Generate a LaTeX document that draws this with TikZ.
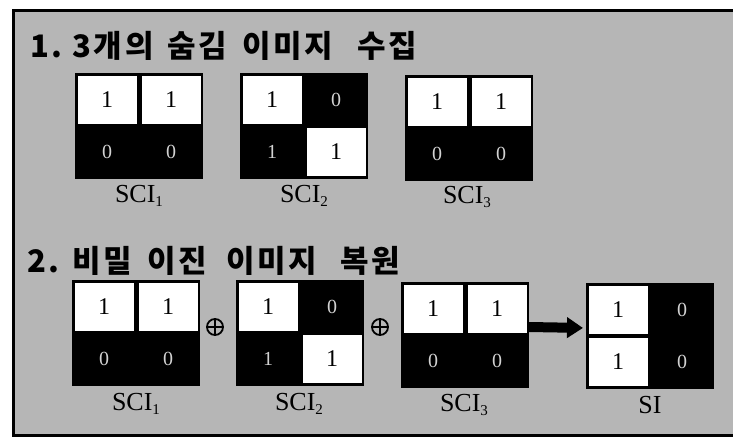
\documentclass[tikz,border=0pt]{standalone}
\usepackage{fontspec}
\setmainfont{Liberation Serif}
\newfontfamily\kr{Noto Sans CJK KR}[LetterSpace=9]
\usetikzlibrary{arrows.meta}
\definecolor{bg}{RGB}{182,182,182}
\newcommand\subn[1]{\raisebox{-0.35ex}{\fontsize{15}{15}\selectfont #1}}
\begin{document}
\begin{tikzpicture}[x=1pt,y=-1pt,
  outer/.style={fill=black, minimum width=128pt, minimum height=106pt, inner sep=0, outer sep=0, anchor=north west},
  wcell/.style={fill=white, minimum width=59pt, minimum height=48pt, inner sep=0, font=\fontsize{24}{24}\selectfont},
  bcell/.style={text=gray!35, minimum width=59pt, minimum height=48pt, inner sep=0, font=\fontsize{20}{20}\selectfont},
  lbl/.style={font=\fontsize{26}{26}\selectfont, inner sep=0},
  ttl/.style={font=\kr\bfseries\fontsize{31}{31}\selectfont, anchor=west, inner sep=0},
  xorsym/.style={circle, draw=black, line width=1.8pt, minimum size=16pt, inner sep=0},
  xorline/.style={line width=1.8pt}
]
\useasboundingbox (0,0) rectangle (733,441);
\fill[white] (0,0) rectangle (733,441);
\fill[bg] (13,11) rectangle (733,435);
\draw[line width=3pt] (733,11) -- (13,11) -- (13,435) -- (733,435);

% titles (word by word)
\node[ttl] (t1w1) at (30,46) {1.};
\node[ttl] (t1w2) at (72,46) {3개의};
\node[ttl] (t1w3) at (167,46) {숨김};
\node[ttl] (t1w4) at (242,46) {이미지};
\node[ttl] (t1w5) at (357,46) {수집};
\node[ttl] (t2w1) at (27,261) {2.};
\node[ttl] (t2w2) at (72,261) {비밀};
\node[ttl] (t2w3) at (147,261) {이진};
\node[ttl] (t2w4) at (226,261) {이미지};
\node[ttl] (t2w5) at (340,261) {복원};

% ---- top row ----
\node[outer] (t1) at (75,73) {};
\node[wcell] (t1a) at (107,100) {1};
\node[wcell] (t1b) at (171,100) {1};
\node[bcell] (t1c) at (107,152) {0};
\node[bcell] (t1d) at (171,152) {0};
\node[lbl] (t1l) at (139,196) {SCI\subn{1}};

\node[outer] (t2) at (240,73) {};
\node[wcell] (t2a) at (272,100) {1};
\node[bcell] (t2b) at (336,100) {0};
\node[bcell] (t2c) at (272,152) {1};
\node[wcell] (t2d) at (336,152) {1};
\node[lbl] (t2l) at (304,196) {SCI\subn{2}};

\node[outer] (t3) at (405,75) {};
\node[wcell] (t3a) at (437,102) {1};
\node[wcell] (t3b) at (501,102) {1};
\node[bcell] (t3c) at (437,154) {0};
\node[bcell] (t3d) at (501,154) {0};
\node[lbl] (t3l) at (467,197) {SCI\subn{3}};

% ---- bottom row ----
\node[outer] (b1) at (72,280) {};
\node[wcell] (b1a) at (104,307) {1};
\node[wcell] (b1b) at (168,307) {1};
\node[bcell] (b1c) at (104,359) {0};
\node[bcell] (b1d) at (168,359) {0};
\node[lbl] (b1l) at (136,404) {SCI\subn{1}};

\node[xorsym] (x1) at (215,327) {};
\draw[xorline] (x1.north) -- (x1.south) (x1.west) -- (x1.east);

\node[outer] (b2) at (236,280) {};
\node[wcell] (b2a) at (268,307) {1};
\node[bcell] (b2b) at (332,307) {0};
\node[bcell] (b2c) at (268,359) {1};
\node[wcell] (b2d) at (332,359) {1};
\node[lbl] (b2l) at (299,404) {SCI\subn{2}};

\node[xorsym] (x2) at (380,327) {};
\draw[xorline] (x2.north) -- (x2.south) (x2.west) -- (x2.east);

\node[outer] (b3) at (401,282) {};
\node[wcell] (b3a) at (433,309) {1};
\node[wcell] (b3b) at (497,309) {1};
\node[bcell] (b3c) at (433,361) {0};
\node[bcell] (b3d) at (497,361) {0};
\node[lbl] (b3l) at (464,405) {SCI\subn{3}};

\node[outer] (si) at (586,283) {};
\node[wcell] (sia) at (618,310) {1};
\node[bcell] (sib) at (682,310) {0};
\node[wcell] (sic) at (618,362) {1};
\node[bcell] (sid) at (682,362) {0};
\node[lbl] (sil) at (650,405) {SI};

\draw[line width=10pt, -{Triangle[length=16pt,width=20pt]}, shorten >=3pt]
  ([yshift=8pt]b3.east) -- ([yshift=8pt]si.west);
\end{tikzpicture}
\end{document}
